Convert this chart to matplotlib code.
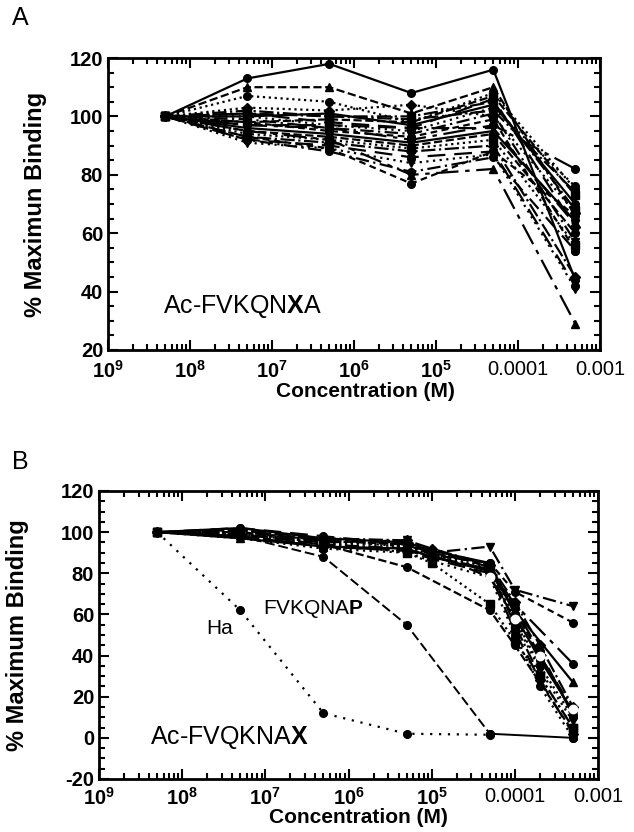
"""Two-panel competition binding curves (% maximum binding vs. concentration)."""

import matplotlib
matplotlib.use("Agg")
import matplotlib.pyplot as plt
import numpy as np
from matplotlib.ticker import LogLocator, MultipleLocator, NullFormatter

plt.rcParams["font.family"] = ["Liberation Sans", "DejaVu Sans"]
plt.rcParams["mathtext.fontset"] = "custom"
plt.rcParams["mathtext.rm"] = "Liberation Sans"
plt.rcParams["mathtext.bf"] = "Liberation Sans:bold"
plt.rcParams["axes.unicode_minus"] = False

# ---- data ---------------------------------------------------------------
XTICKS = [1e-9, 1e-8, 1e-7, 1e-6, 1e-5, 1e-4, 1e-3]
XTICK_LABELS = [r"$\mathbf{10}^{\mathbf{9}}$", r"$\mathbf{10}^{\mathbf{8}}$",
                r"$\mathbf{10}^{\mathbf{7}}$", r"$\mathbf{10}^{\mathbf{6}}$",
                r"$\mathbf{10}^{\mathbf{5}}$", "0.0001", "0.001"]

# panel A: Ac-FVKQNXA
CONC_A = [5e-9, 5e-8, 5e-7, 5e-6, 5e-5, 5e-4]
BIND_A = [
    [100, 113, 118, 108, 116, 44],
    [100, 110, 110, 101, 110, 66],
    [100, 107, 105, 98, 108, 75],
    [100, 102, 100, 100, 105, 68],
    [100, 101, 98, 96, 106, 62],
    [100, 100, 97, 95, 103, 76],
    [100, 99, 96, 94, 101, 57],
    [100, 98, 95, 93, 99, 54],
    [100, 97, 96, 92, 97, 82],
    [100, 96, 94, 91, 95, 64],
    [100, 95, 93, 90, 94, 60],
    [100, 94, 92, 89, 92, 56],
    [100, 93, 91, 88, 90, 45],
    [100, 92, 90, 86, 88, 42],
    [100, 91, 89, 84, 87, 41],
    [100, 92, 88, 81, 86, 54],
    [100, 93, 89, 77, 88, 66],
    [100, 95, 92, 80, 82, 29],
    [100, 100, 101, 97, 104, 70],
    [100, 98, 99, 98, 107, 73],
    [100, 103, 102, 104, 100, 67],
    [100, 101, 100, 99, 102, 74],
    [100, 97, 97, 96, 96, 63],
]

# panel B: Ac-FVQKNAX (nan = concentration not measured for that peptide)
CONC_B = [5e-9, 5e-8, 5e-7, 5e-6, 1e-5, 5e-5, 1e-4, 2e-4, 5e-4]
NA = np.nan
BIND_B = [
    [100, 102, 97, 95, 91, 85, 60, 38, 13],
    [100, 101, 96, 94, 90, 84, 62, 40, 12],
    [100, 100, 95, 93, 89, 83, 58, 35, 10],
    [100, 99, 94, 92, 88, 82, 55, 30, 5],
    [100, 98, 93, 91, 87, 80, 52, 28, 2],
    [100, 97, 92, 90, 86, 78, 50, 25, 0],
    [100, 99, 95, 96, 90, 93, 72, NA, 64],
    [100, 100, 96, 94, 89, 85, 71, NA, 56],
    [100, 98, 93, 91, 88, 82, 65, NA, 36],
    [100, 97, 93, 92, 88, 81, 62, NA, 27],
    [100, 98, 94, 83, NA, 62, 45, NA, 3],
    [100, 99, 95, 90, 85, 65, 47, 30, 5],
    [100, 101, 97, 96, 92, 84, 66, 45, 15],
    [100, 102, 98, 94, 91, 83, 63, 42, 11],
    [100, 99, 96, 93, 90, 81, 57, 33, 8],
    [100, 100, 96, 95, 90, 78, 58, 40, 14],
]
HA_CONC = [5e-9, 5e-8, 5e-7, 5e-6, 5e-5]
HA_BIND = [100, 62, 12, 2, 1.5]
P_CONC = [5e-9, 5e-8, 5e-7, 5e-6, 5e-5, 5e-4]
P_BIND = [100, 98, 88, 55, 2, 0]

# ---- styles ---------------------------------------------------------------
DASHES = ["-", "--", ":", "-.", (0, (8, 4)), (0, (1, 2)), (0, (6, 2, 1, 2)),
          (0, (3, 2)), (0, (10, 3, 2, 3))]
MARKERS = ["o", "^", "o", "s", "D", "o", "v", "o"]


def style_axes(ax, ylo, yhi):
    ax.set_xscale("log")
    ax.set_xlim(1e-9, 1e-3)
    ax.set_ylim(ylo, yhi)
    ax.set_xticks(XTICKS, XTICK_LABELS)
    ax.xaxis.set_minor_locator(LogLocator(base=10, subs=np.arange(2, 10)))
    ax.xaxis.set_minor_formatter(NullFormatter())
    ax.yaxis.set_major_locator(MultipleLocator(20))
    ax.yaxis.set_minor_locator(MultipleLocator(5))
    ax.tick_params(which="both", direction="in", top=True, right=True, width=1.5)
    ax.tick_params(which="major", length=7, labelsize=14.5)
    ax.tick_params(which="minor", length=4)
    for lbl in ax.get_yticklabels():
        lbl.set_fontweight("bold")
    for sp in ax.spines.values():
        sp.set_linewidth(2)


def draw_series(ax, x, ys):
    x = np.asarray(x)
    for k, y in enumerate(ys):
        y = np.asarray(y, dtype=float)
        ok = np.isfinite(y)
        ax.plot(x[ok], y[ok], color="black", lw=1.6,
                linestyle=DASHES[k % len(DASHES)],
                marker=MARKERS[k % len(MARKERS)], ms=5.5,
                mfc="black", mec="black")


fig = plt.figure(figsize=(6.34, 8.32), dpi=100)
W, H = 634, 832

# panel A
axA = fig.add_axes([108 / W, 1 - 350 / H, 492 / W, 292 / H])
draw_series(axA, CONC_A, BIND_A)
style_axes(axA, 20, 120)
axA.tick_params(axis="x", which="major", pad=7)
axA.set_ylabel("% Maximun Binding", fontsize=17, fontweight="bold")
axA.yaxis.set_label_coords(-0.125, 0.5)
axA.set_xlabel("Concentration (M)", fontsize=15, fontweight="bold")
axA.xaxis.set_label_coords(0.524, -0.11)
axA.text(4.7e-9, 35, r"Ac-FVKQN$\mathbf{X}$A", fontsize=18, va="center")
fig.text(12 / W, 1 - 18 / H, "A", fontsize=18, va="center")

# panel B
axB = fig.add_axes([99 / W, 1 - 779 / H, 499 / W, 288 / H])
draw_series(axB, CONC_B, BIND_B)
axB.plot(HA_CONC, HA_BIND, color="black", lw=1.6, linestyle=(0, (1, 3)),
         marker="o", ms=5.5)
axB.plot(P_CONC[:5], P_BIND[:5], color="black", lw=1.4, linestyle=(0, (5, 2)),
         marker="o", ms=5.5)
axB.plot(P_CONC[4:], P_BIND[4:], color="black", lw=1.4, marker="o", ms=5.5)
# one peptide drawn with open circles
axB.plot(CONC_B[5:], BIND_B[-1][5:], color="black", lw=0, marker="o", ms=6,
         mfc="white", mec="white")
style_axes(axB, -20, 120)
axB.tick_params(axis="x", which="major", pad=6)
axB.set_ylabel("% Maximum Binding", fontsize=17, fontweight="bold")
axB.yaxis.set_label_coords(-0.14, 0.5)
axB.set_xlabel("Concentration (M)", fontsize=15, fontweight="bold")
axB.xaxis.set_label_coords(0.519, -0.1)
axB.text(4.1e-9, 0, r"Ac-FVQKNA$\mathbf{X}$", fontsize=18, va="center")
axB.text(9.3e-8, 62.5, r"FVKQNA$\mathbf{P}$", fontsize=15, va="center")
axB.text(1.96e-8, 53, "Ha", fontsize=15, va="center")
fig.text(12 / W, 1 - 462 / H, "B", fontsize=18, va="center")

fig.savefig("out.png", dpi=100)
